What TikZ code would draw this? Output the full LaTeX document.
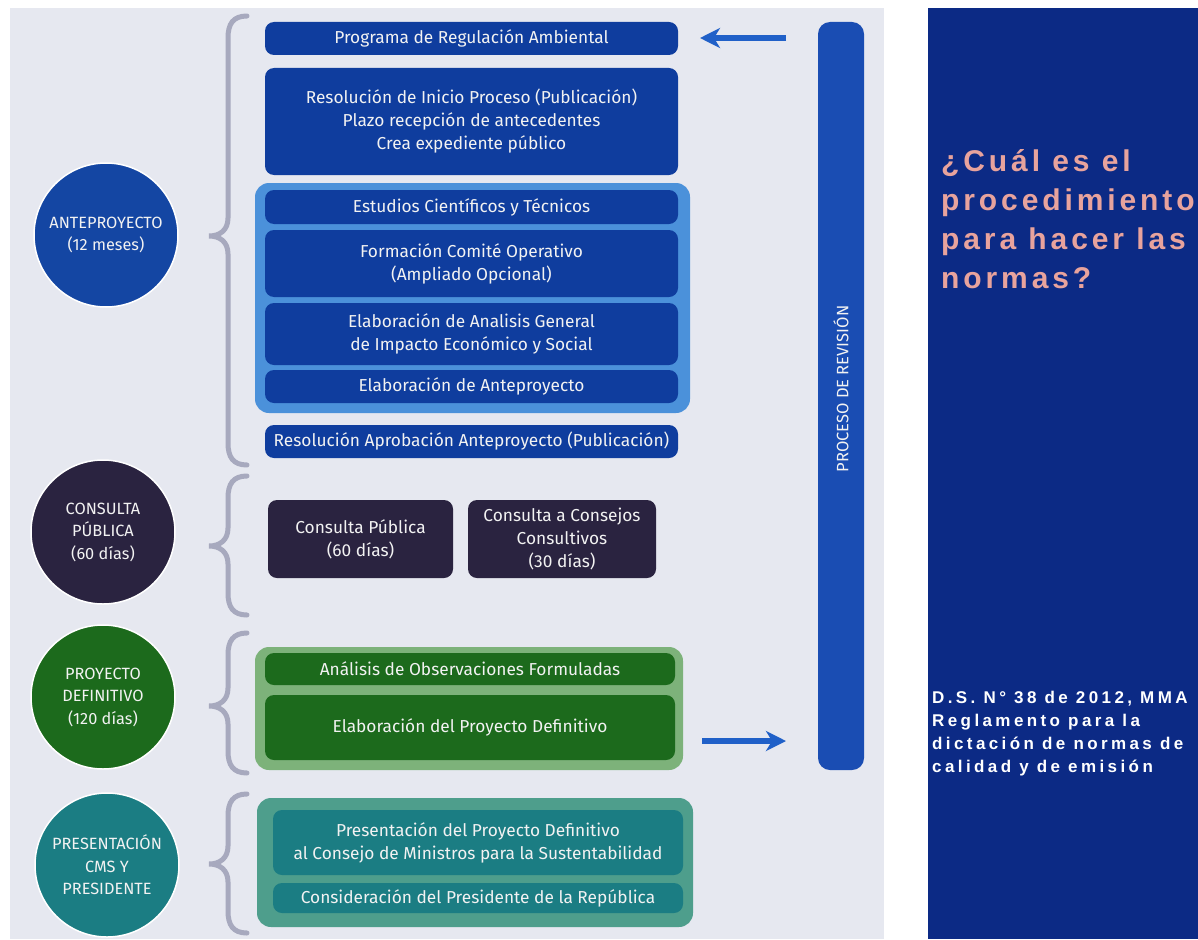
\documentclass[tikz,border=0pt]{standalone}
\usepackage{fontspec}
\setmainfont{Fira Sans}
\newfontfamily\titlefont[LetterSpace=13]{Liberation Sans}
\newfontfamily\subfont[LetterSpace=20]{Liberation Sans}
\usetikzlibrary{arrows.meta}
\definecolor{pagebg}{HTML}{E6E8F0}
\definecolor{navypanel}{HTML}{0C2A85}
\definecolor{titlepink}{HTML}{E8A39D}
\definecolor{boxblue}{HTML}{0F3D9E}
\definecolor{circblue}{HTML}{1446A3}
\definecolor{contblue}{HTML}{4B91DA}
\definecolor{boxpurple}{HTML}{2A2340}
\definecolor{boxgreen}{HTML}{1C6A1C}
\definecolor{contgreen}{HTML}{7DB27A}
\definecolor{boxteal}{HTML}{1B7D83}
\definecolor{contteal}{HTML}{4E9E8C}
\definecolor{barblue}{HTML}{1A4DB3}
\definecolor{arrowblue}{HTML}{2060C8}
\definecolor{bracegrey}{HTML}{A7A9BE}
\definecolor{txtwhite}{HTML}{F2F2F2}
\tikzset{
  stagebox/.style={rounded corners=9pt, text=txtwhite, align=center, inner sep=0pt,
    font=\fontsize{17.3}{23}\selectfont},
  bluebox/.style={stagebox, fill=boxblue},
  purplebox/.style={stagebox, fill=boxpurple},
  greenbox/.style={stagebox, fill=boxgreen},
  tealbox/.style={stagebox, fill=boxteal},
  container/.style={rounded corners=14pt},
  stagecirc/.style={circle, draw=white, line width=1.5pt, minimum size=144pt, inner sep=0pt,
    text=txtwhite, align=center, font=\fontsize{16.3}{22.5}\selectfont},
  curly/.style={draw=bracegrey, line width=5pt, line cap=round},
  revarrow/.style={draw=arrowblue, line width=6pt, -{Stealth[length=20pt,width=20pt,inset=6pt]}},
  titleline/.style={anchor=base west, inner sep=0pt, text=titlepink,
    font=\titlefont\bfseries\fontsize{30}{30}\selectfont},
  subline/.style={anchor=base west, inner sep=0pt, text=white,
    font=\subfont\bfseries\fontsize{17}{17}\selectfont}
}
\newcommand\stagebrace[3]{%
  \draw[curly] (247,#1) .. controls (233,#1) and (228,#1+8) .. (228,#1+22)
    -- (228,#2-18) .. controls (228,#2-6) and (220,#2) .. (209,#2)
    .. controls (220,#2) and (228,#2+6) .. (228,#2+18)
    -- (228,#3-22) .. controls (228,#3-8) and (233,#3) .. (247,#3);}
\begin{document}
\begin{tikzpicture}[x=1pt,y=-1pt]
\useasboundingbox (0,0) rectangle (1198,939);
\fill[white] (0,0) rectangle (1198,939);
\fill[pagebg] (10,8) rectangle (884,939);
\fill[navypanel] (928,8) rectangle (1198,939);

% right panel text
\node[titleline] (t1) at (941,171) {¿Cuál es el};
\node[titleline] (t2) at (941,210) {procedimiento};
\node[titleline] (t3) at (941,249) {para hacer las};
\node[titleline] (t4) at (941,288) {normas?};
\node[subline] (s1) at (932,703) {D.S. N° 38 de 2012, MMA};
\node[subline] (s2) at (932,726) {Reglamento para la};
\node[subline] (s3) at (932,749) {dictación de normas de};
\node[subline] (s4) at (932,772) {calidad y de emisión};

% circles
\node[stagecirc, fill=circblue] (c1) at (106,235) {ANTEPROYECTO\\(12 meses)};
\node[stagecirc, fill=boxpurple] (c2) at (103,532) {CONSULTA\\PÚBLICA\\(60 días)};
\node[stagecirc, fill=boxgreen] (c3) at (103,697) {PROYECTO\\DEFINITIVO\\(120 días)};
\node[stagecirc, fill=boxteal] (c4) at (107,865) {PRESENTACIÓN\\CMS Y\\PRESIDENTE};

% braces
\stagebrace{16}{236}{465}
\stagebrace{476}{546}{615}
\stagebrace{633}{706}{773}
\stagebrace{794}{864}{933}

% anteproyecto boxes
\node[bluebox, minimum width=413pt, minimum height=33pt] (prog) at (471.5,38.5) {Programa de Regulación Ambiental};
\node[bluebox, minimum width=413pt, minimum height=107pt] (inicio) at (471.5,121.5)
  {Resolución de Inicio Proceso (Publicación)\\Plazo recepción de antecedentes\\Crea expediente público};
\fill[contblue, container] (255,183) rectangle (690,413);
\node[bluebox, minimum width=413pt, minimum height=34pt] (estud) at (471.5,207) {Estudios Científicos y Técnicos};
\node[bluebox, minimum width=413pt, minimum height=67pt] (comite) at (471.5,263.5) {Formación Comité Operativo\\(Ampliado Opcional)};
\node[bluebox, minimum width=413pt, minimum height=62pt] (analisis) at (471.5,334) {Elaboración de Analisis General\\de Impacto Económico y Social};
\node[bluebox, minimum width=413pt, minimum height=33pt] (elabante) at (471.5,386.5) {Elaboración de Anteproyecto};
\node[bluebox, minimum width=413pt, minimum height=33pt] (aprob) at (471.5,441.5) {Resolución Aprobación Anteproyecto (Publicación)};

% consulta boxes
\node[purplebox, minimum width=185pt, minimum height=78pt] (cpub) at (360.5,539) {Consulta Pública\\(60 días)};
\node[purplebox, minimum width=188pt, minimum height=78pt] (ccons) at (562,539) {Consulta a Consejos\\Consultivos\\(30 días)};

% proyecto definitivo
\fill[contgreen, container] (255,647) rectangle (683,770);
\node[greenbox, minimum width=410pt, minimum height=32pt] (obs) at (470,669) {Análisis de Observaciones Formuladas};
\node[greenbox, minimum width=410pt, minimum height=65pt] (pdef) at (470,727.5) {Elaboración del Proyecto Definitivo};

% presentacion
\fill[contteal, container] (257,798) rectangle (693,927);
\node[tealbox, minimum width=410pt, minimum height=65pt] (pres) at (478,842.5) {Presentación del Proyecto Definitivo\\al Consejo de Ministros para la Sustentabilidad};
\node[tealbox, minimum width=410pt, minimum height=30pt] (presid) at (478,898) {Consideración del Presidente de la República};

% revision bar
\node[fill=barblue, rounded corners=12pt, minimum width=46pt, minimum height=748pt, inner sep=0pt] (bar) at (841,396) {};
\node[rotate=90, text=txtwhite, font=\fontsize{16.5}{16.5}\selectfont] (bartext) at (841,389) {PROCESO DE REVISIÓN};

% arrows
\coordinate (topstart) at (786,38);
\coordinate (topend) at (700,38);
\coordinate (botstart) at (702,741);
\coordinate (botend) at (786,741);
\draw[revarrow] (topstart) -- (topend);
\draw[revarrow] (botstart) -- (botend);
\end{tikzpicture}
\end{document}
